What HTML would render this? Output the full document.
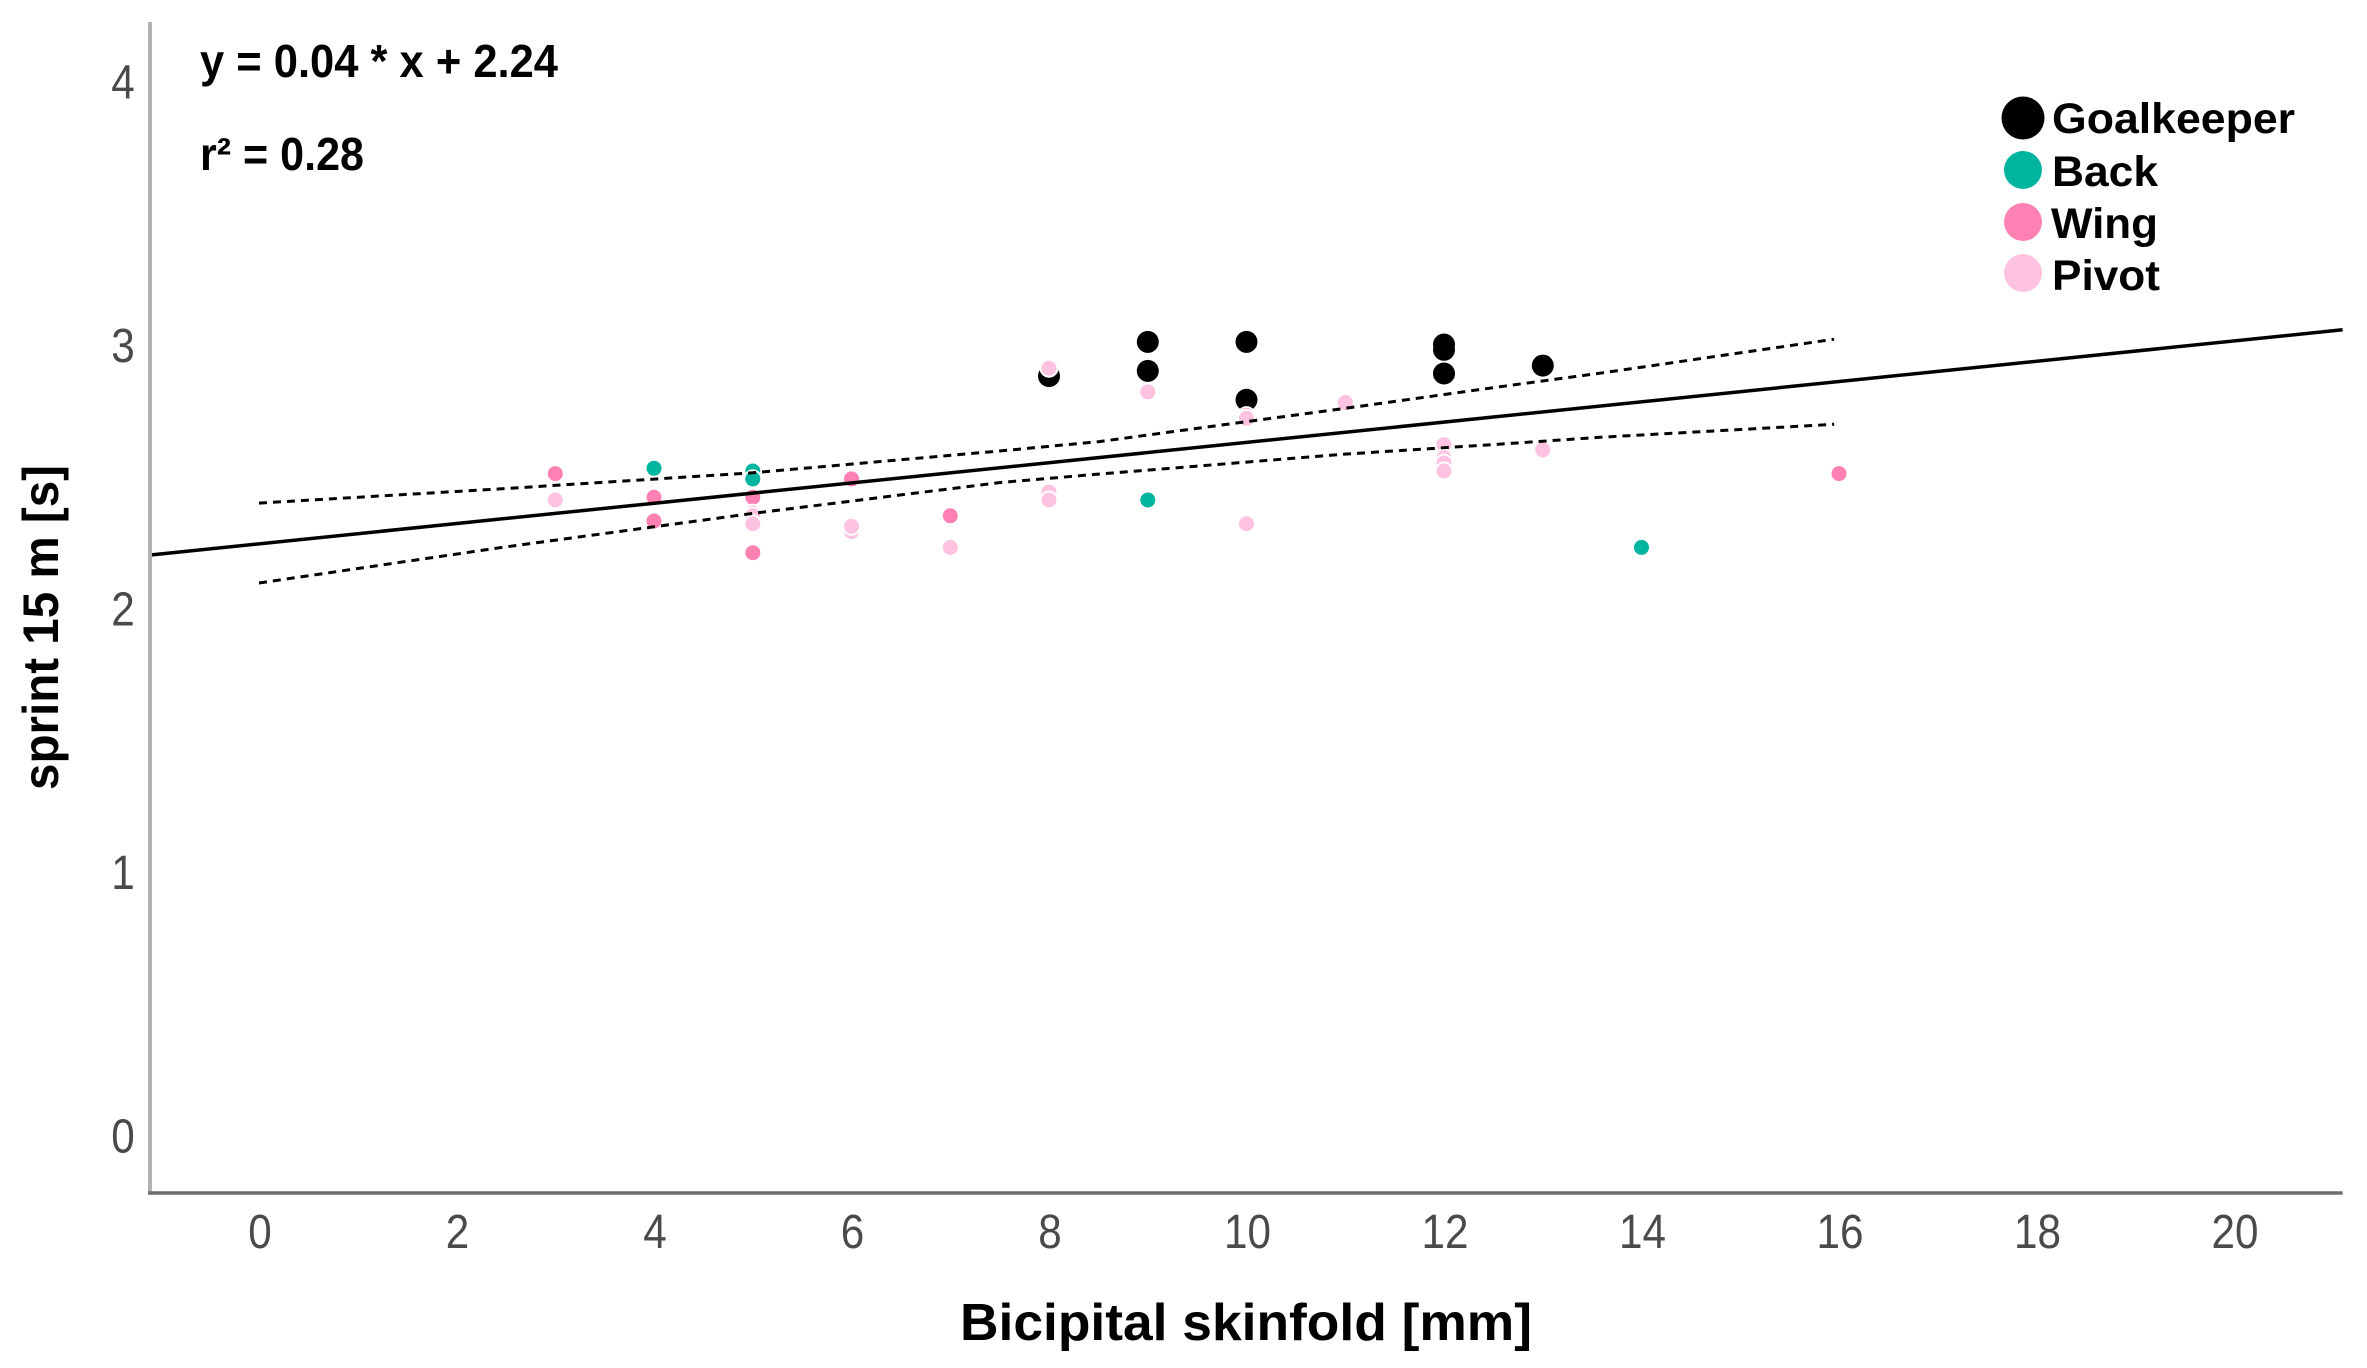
<!DOCTYPE html>
<html lang="en">
<head>
<meta charset="utf-8">
<title>Sprint 15 m vs bicipital skinfold</title>
<style>
html,body{margin:0;padding:0;background:#fff;}
svg{display:block;font-family:"Liberation Sans",Arial,sans-serif;}
.b{font-weight:700;fill:#000;}
.t{font-weight:400;fill:#4a4a4a;font-size:48px;}
</style>
</head>
<body>
<svg id="chart" xmlns="http://www.w3.org/2000/svg" width="2367" height="1368" viewBox="0 0 2367 1368">
  <rect x="0" y="0" width="2367" height="1368" fill="#ffffff"/>
  <g id="marks"></g>
  <g id="axes"></g>
  <text class="b" x="960" y="1340" font-size="52" textLength="572" lengthAdjust="spacingAndGlyphs">Bicipital skinfold [mm]</text>
  <text class="b" transform="translate(58,790) rotate(-90)" font-size="50" textLength="325" lengthAdjust="spacingAndGlyphs">sprint 15 m [s]</text>
  <text class="b" x="200" y="77" font-size="46" textLength="358" lengthAdjust="spacingAndGlyphs">y = 0.04 * x + 2.24</text>
  <text class="b" x="200" y="170" font-size="46" textLength="164" lengthAdjust="spacingAndGlyphs">r² = 0.28</text>
  <g>
    <circle cx="2023" cy="118" r="21.5" fill="#000000"/>
    <text class="b" x="2052" y="133" font-size="43" textLength="243" lengthAdjust="spacingAndGlyphs">Goalkeeper</text>
    <circle cx="2023" cy="170" r="19" fill="#00b5a0"/>
    <text class="b" x="2052" y="186" font-size="43" textLength="106" lengthAdjust="spacingAndGlyphs">Back</text>
    <circle cx="2023" cy="222" r="19" fill="#ff80b3"/>
    <text class="b" x="2051" y="238" font-size="43" textLength="107" lengthAdjust="spacingAndGlyphs">Wing</text>
    <circle cx="2023" cy="273" r="19" fill="#ffc2e0"/>
    <text class="b" x="2052" y="290" font-size="43" textLength="108" lengthAdjust="spacingAndGlyphs">Pivot</text>
  </g>
</svg>
<script>
var xTicks = [0, 2, 4, 6, 8, 10, 12, 14, 16, 18, 20];
var yTicks = [0, 1, 2, 3, 4];

var goalkeeperX = [8, 9, 9, 10, 10, 12, 12, 12, 13];
var goalkeeperY = [2.88, 3.01, 2.90, 3.01, 2.79, 3.00, 2.98, 2.89, 2.92];
var backX = [4, 5, 5, 9, 14];
var backY = [2.53, 2.52, 2.49, 2.41, 2.23];
var wingX = [3, 4, 4, 5, 5, 5, 6, 7, 10, 16];
var wingY = [2.51, 2.42, 2.33, 2.42, 2.36, 2.21, 2.49, 2.35, 2.73, 2.51];
var pivotX = [3, 5, 5, 6, 6, 7, 8, 8, 8, 9, 10, 10, 11, 12, 12, 12, 12, 13];
var pivotY = [2.41, 2.35, 2.32, 2.29, 2.31, 2.23, 2.91, 2.44, 2.41, 2.82, 2.72, 2.32, 2.78, 2.62, 2.57, 2.55, 2.52, 2.60];

var fitSlope = 0.0385;
var fitIntercept = 2.2435;
var fitRange = [-1.1, 21.1];

var ciX = [0, 2.44, 5, 7.5, 8.5, 11, 12.57, 13.58, 15.95];
var ciUpper = [2.398, 2.452, 2.513, 2.596, 2.631, 2.758, 2.840, 2.891, 3.020];
var ciLower = [2.095, 2.229, 2.359, 2.476, 2.508, 2.584, 2.622, 2.648, 2.697];

var xDomain = [-1.104, 21.1];
var yDomain = [-0.22, 4.224];

var NS = 'http://www.w3.org/2000/svg';
var marks = document.getElementById('marks');
var axes = document.getElementById('axes');

function xScale(v) { return 259 + 98.75 * v; }
function yScale(v) { return 1135 - 263.5 * v; }

function make(tag, parent, props) {
  var el = document.createElementNS(NS, tag);
  for (var k in props) { el.setAttribute(k, props[k]); }
  parent.appendChild(el);
  return el;
}

function drawLine(xs, ys, name, width, dash) {
  var d = '';
  for (var i = 0; i < xs.length; i++) {
    d += (i ? 'L' : 'M') + xScale(xs[i]).toFixed(1) + ' ' + yScale(ys[i]).toFixed(1);
  }
  var p = make('path', marks, { d: d, fill: 'none', stroke: '#000', 'stroke-width': width });
  if (dash) { p.setAttribute('stroke-dasharray', dash); }
  
  
}

function drawSeries(xs, ys, name, color, r, outline) {
  for (var i = 0; i < xs.length; i++) {
    var c = make('circle', marks, {
      cx: xScale(xs[i]).toFixed(1),
      cy: yScale(ys[i]).toFixed(1),
      r: r,
      fill: color,
      stroke: outline,
      'stroke-width': 2
    });
    
    
  }
}

drawSeries(goalkeeperX, goalkeeperY, 'point-goalkeeper', '#000000', 11, 'none');
drawSeries(backX, backY, 'point-back', '#00b5a0', 8.5, '#fff');
drawSeries(wingX, wingY, 'point-wing', '#ff80b3', 8.5, '#fff');
drawSeries(pivotX, pivotY, 'point-pivot', '#ffc2e0', 8.5, '#fff');

drawLine(ciX, ciUpper, 'confidence-band-upper', 3, '8 6');
drawLine(ciX, ciLower, 'confidence-band-lower', 3, '8 6');
drawLine(fitRange, [fitIntercept + fitSlope * fitRange[0], fitIntercept + fitSlope * fitRange[1]], 'regression-line', 3.5);

var yAxis = make('line', axes, {
  x1: xScale(xDomain[0]), x2: xScale(xDomain[0]),
  y1: yScale(yDomain[1]), y2: yScale(yDomain[0]),
  stroke: '#b2b2b2', 'stroke-width': 4
});



var xAxis = make('line', axes, {
  x1: xScale(xDomain[0]) - 2, x2: xScale(xDomain[1]),
  y1: yScale(yDomain[0]), y2: yScale(yDomain[0]),
  stroke: '#6e6e6e', 'stroke-width': 3.5
});



xTicks.forEach(function (v) {
  var t = make('text', axes, { transform: 'translate(' + (xScale(v) + 1) + ',1248) scale(0.88,1)', 'text-anchor': 'middle', 'class': 't' });
  t.textContent = String(v);
  
  
});

yTicks.forEach(function (v) {
  var t = make('text', axes, { transform: 'translate(123,' + (yScale(v) + 17.7) + ') scale(0.88,1)', 'text-anchor': 'middle', 'class': 't' });
  t.textContent = String(v);
  
  
});
</script>
</body>
</html>
